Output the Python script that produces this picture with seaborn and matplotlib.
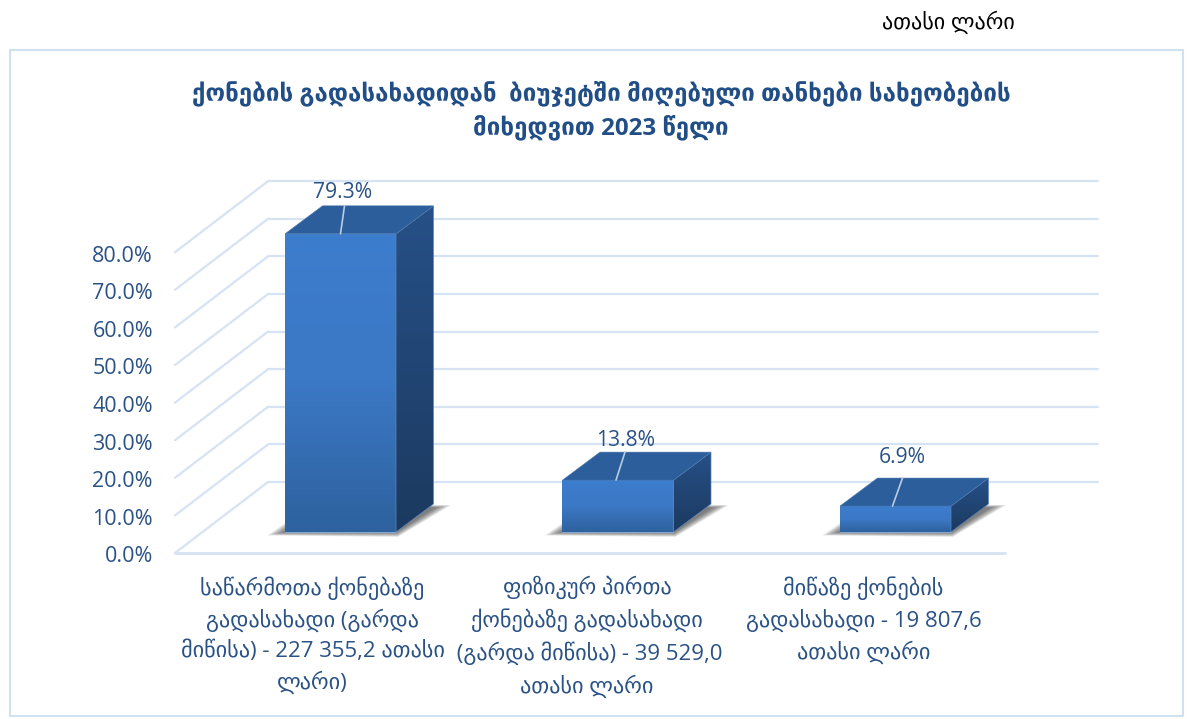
import numpy as np
import pandas as pd
import matplotlib
matplotlib.use("Agg")
import matplotlib.pyplot as plt
from matplotlib.colors import LinearSegmentedColormap
from matplotlib.patches import Polygon, Rectangle
import seaborn as sns

# data
title = "ქონების გადასახადიდან  ბიუჯეტში მიღებული თანხები სახეობების\nმიხედვით 2023 წელი"
unit_note = "ათასი ლარი"
categories = [
    "საწარმოთა ქონებაზე\nგადასახადი (გარდა\nმიწისა) - 227 355,2 ათასი\nლარი)",
    "ფიზიკურ პირთა\nქონებაზე გადასახადი\n (გარდა მიწისა) - 39 529,0\nათასი ლარი",
    "მიწაზე ქონების\nგადასახადი - 19 807,6\nათასი ლარი",
]
shares = [79.3, 13.8, 6.9]
y_ticks = [0, 10, 20, 30, 40, 50, 60, 70, 80]

NAVY = "#2A5285"
GRID = "#D6E3F3"

sns.set_theme(style="white")
plt.rcParams["font.family"] = ["Open Sans", "DejaVu Sans"]

W, H = 1192, 719
fig = plt.figure(figsize=(W / 100, H / 100), dpi=100)
ax = fig.add_axes([0, 0, 1, 1])

df = pd.DataFrame({"category": categories, "share": shares})
sns.barplot(data=df, x="category", y="share", width=0.4, color="#3A78C6",
            saturation=1, ax=ax, zorder=3)

# one category step is 277.5 px, one percent is 3.76 px
XS, YS = 277.5, 3.76
x0, y0 = 340.5, 532
xlim = ((0 - x0) / XS, (W - x0) / XS)
ylim = ((y0 - H) / YS, y0 / YS)


def dx(px):
    return px / XS


def dy(px):
    return px / YS


# 3d floor / wall offsets
floor_y = dy(-21)
wall_dx, wall_dy = dx(93), dy(71)
left = dx(175 - x0)
bar_dx, bar_dy = dx(37.5), dy(28)

# gridlines
for t in y_ticks:
    y = floor_y + t
    ax.plot([left, left + wall_dx], [y, y + wall_dy], color=GRID, lw=1.6, zorder=1)
    ax.plot([left + wall_dx, left + wall_dx + dx(830)], [y + wall_dy, y + wall_dy],
            color=GRID, lw=1.6, zorder=1)
    ax.text(dx(153 - x0), y - dy(1.5), f"{t:.1f}%", ha="right", va="center_baseline",
            fontsize=15.5, color=NAVY)
ax.plot([left, left + dx(830)], [floor_y, floor_y], color=GRID, lw=2, zorder=1)

front_cmap = LinearSegmentedColormap.from_list("front", ["#3D7DCD", "#3B78C5", "#2E629F"])
side_cmap = LinearSegmentedColormap.from_list("side", ["#265087", "#1C3A60"])

# leader line and label nudges per bar, in pixels
leader_base = [0, -2, -3]
leader_lean = [4, 9, 10]
label_dx = [2.5, 8, 6.5]
label_dy = [16, 14.5, 23.5]
# category label shift from the bar centre, in pixels
cat_dx = [-28, -31, -32]

for i, (bar, share) in enumerate(zip(ax.patches, shares)):
    bx, bw = bar.get_x(), bar.get_width()
    # soft floor shadow
    n = 16
    for k in range(n):
        g = 1 - k / n
        shadow = Polygon([
            (bx - dx(18 * g), dy(-3.5 * g)), (bx + bw + dx(2 * g), dy(-5 * g)),
            (bx + bw + bar_dx + dx(18 * g), bar_dy - dy(1 + 3 * (1 - g))),
            (bx + bar_dx, bar_dy - dy(1)), (bx, dy(9 * g)),
        ], closed=True, fc="#303030", ec="none", alpha=0.055, zorder=2)
        ax.add_patch(shadow)

    bar.set_edgecolor("#8FB0DA")
    bar.set_linewidth(0.6)
    im = ax.imshow(np.linspace(0, 1, 64).reshape(-1, 1), cmap=front_cmap, aspect="auto",
                   extent=(bx, bx + bw, 0, share), origin="upper", zorder=3.2)
    im.set_clip_path(Rectangle((bx, 0), bw, share, transform=ax.transData))

    # side face
    side = Polygon([(bx + bw, 0), (bx + bw + bar_dx, bar_dy),
                    (bx + bw + bar_dx, share + bar_dy), (bx + bw, share)],
                   closed=True, fc="none", ec="#5F86B8", lw=0.5, zorder=3.4)
    ax.add_patch(side)
    im2 = ax.imshow(np.linspace(0, 1, 64).reshape(-1, 1), cmap=side_cmap, aspect="auto",
                    extent=(bx + bw, bx + bw + bar_dx, 0, share + bar_dy),
                    origin="upper", zorder=3.2)
    im2.set_clip_path(side)

    # top face
    ax.add_patch(Polygon([(bx, share), (bx + bw, share),
                          (bx + bw + bar_dx, share + bar_dy), (bx + bar_dx, share + bar_dy)],
                         closed=True, fc="#2B5E9A", ec="#4A78B0", lw=0.4, zorder=3.4))

    # data label with leader line
    cx = bx + bw / 2
    base = cx + dx(leader_base[i])
    ax.plot([base, base + dx(leader_lean[i])], [share, share + bar_dy],
            color="#B9CDE6", lw=1.2, zorder=4)
    ax.text(cx + dx(label_dx[i]), share + bar_dy + dy(label_dy[i]),
            f"{share:.1f}%", ha="center", va="center_baseline", fontsize=15.2,
            color=NAVY, zorder=5)

# category labels sit left of the bars
for i, label in enumerate(categories):
    ax.text(i + dx(cat_dx[i]), dy(y0 - 576), label, ha="center", va="top", fontsize=16,
            color=NAVY, linespacing=1.5)

ax.set_xlim(*xlim)
ax.set_ylim(*ylim)
ax.set_xlabel("")
ax.set_ylabel("")
ax.axis("off")

# outer frame and header texts in figure pixels
fig.add_artist(Rectangle((10 / W, 1 - 716 / H), 1173 / W, 666 / H, transform=fig.transFigure,
                         fc="none", ec="#CFE2EE", lw=1.5))
fig.text(948 / W, 1 - 22 / H, unit_note, ha="center", va="center", fontsize=15.9, color="black")
fig.text(601 / W, 1 - 110 / H, title, ha="center", va="center", fontsize=17.4,
         fontweight="bold", color="#214E86", linespacing=1.45)

fig.savefig("out.png", dpi=100)
